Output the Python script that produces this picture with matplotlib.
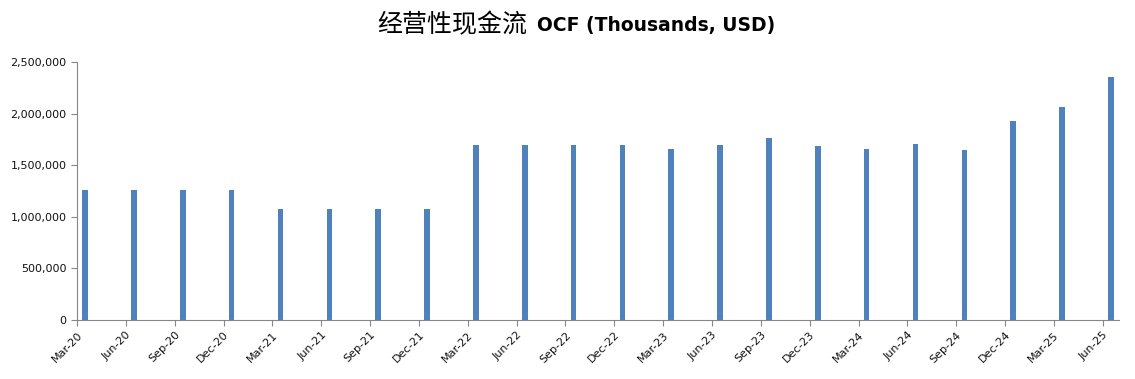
import matplotlib.pyplot as plt
from matplotlib.ticker import FuncFormatter

# quarters, Mar-20 .. Jun-25
quarters = ["Mar-20", "Jun-20", "Sep-20", "Dec-20",
            "Mar-21", "Jun-21", "Sep-21", "Dec-21",
            "Mar-22", "Jun-22", "Sep-22", "Dec-22",
            "Mar-23", "Jun-23", "Sep-23", "Dec-23",
            "Mar-24", "Jun-24", "Sep-24", "Dec-24",
            "Mar-25", "Jun-25"]
ocf = [1255000, 1255000, 1255000, 1255000,
       1077000, 1077000, 1077000, 1077000,
       1698000, 1698000, 1698000, 1698000,
       1659000, 1698000, 1766000, 1688000,
       1659000, 1707000, 1649000, 1930000,
       2066000, 2357000]

# month index of each quarter (0 = Mar 2020), date axis with monthly base unit
month_idx = [3 * i for i in range(len(quarters))]
n_months = month_idx[-1] + 1

fig = plt.figure(figsize=(11.35, 3.79), dpi=100)
ax = fig.add_axes([77 / 1135, 1 - 320 / 379, (1119 - 77) / 1135, (320 - 62) / 379])

ax.bar([m + 0.5 for m in month_idx], ocf, width=0.34, color="#4F81BD")

ax.set_xlim(0, n_months)
ax.set_ylim(0, 2500000)
ax.set_yticks(range(0, 2500001, 500000))
ax.yaxis.set_major_formatter(FuncFormatter(lambda v, p: f"{int(v):,}"))
ax.set_xticks(month_idx)
ax.set_xticklabels(quarters, rotation=45, ha="right", rotation_mode="anchor")

for s in ["top", "right"]:
    ax.spines[s].set_visible(False)
for s in ["left", "bottom"]:
    ax.spines[s].set_color("#868686")
ax.tick_params(axis="both", colors="#868686", length=4, labelsize=8,
               labelcolor="#111111")
ax.tick_params(axis="x", pad=3)

# title: Chinese part + bold English part
fig.text(527 / 1135, 1 - 25 / 379, "经营性现金流", family=["Noto Sans CJK SC"],
         fontsize=18, ha="right", va="center", color="black")
fig.text(537 / 1135, 1 - 25 / 379, "OCF (Thousands, USD)", family=["DejaVu Sans"],
         fontsize=13.5, fontweight="bold", ha="left", va="center", color="black")

fig.savefig("out.png", dpi=100)
